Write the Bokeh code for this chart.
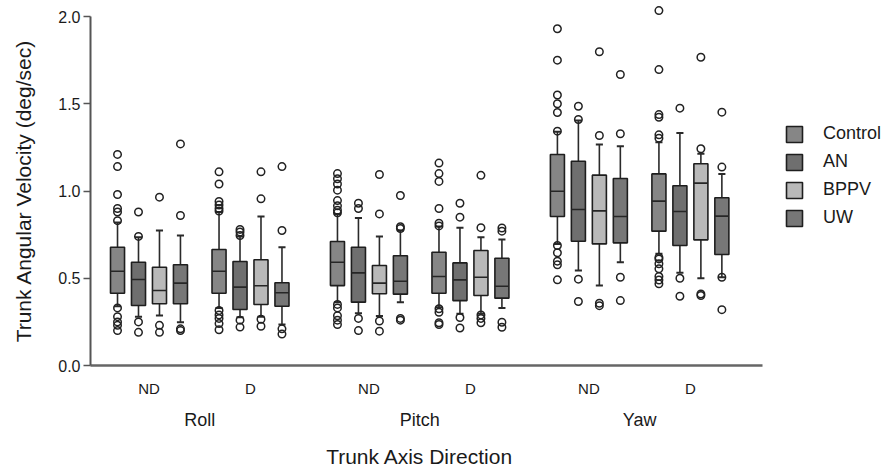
from bokeh.plotting import figure
from bokeh.models import (Range1d, FixedTicker, LinearAxis, Legend, LegendItem,
                          ColumnDataSource, NumeralTickFormatter)
from bokeh.embed import file_html
from bokeh.resources import INLINE

# ---------------- data ----------------
axis_names = ["Roll", "Pitch", "Yaw"]
directions = ["ND", "D"]
groups = ["Control", "AN", "BPPV", "UW"]
colors = ["#868686", "#6f6f6f", "#b9b9b9", "#777777"]
x_title = "Trunk Axis Direction"
y_title = "Trunk Angular Velocity (deg/sec)"

# rows: Roll-ND, Roll-D, Pitch-ND, Pitch-D, Yaw-ND, Yaw-D ; columns: Control, AN, BPPV, UW
whisker_lo = [
    [0.34, 0.28, 0.287, 0.248],
    [0.33, 0.277, 0.28, 0.235],
    [0.363, 0.30, 0.283, 0.363],
    [0.334, 0.296, 0.296, 0.33],
    [0.697, 0.544, 0.458, 0.592],
    [0.64, 0.531, 0.50, 0.506],
]
q1 = [
    [0.414, 0.344, 0.354, 0.354],
    [0.414, 0.321, 0.35, 0.34],
    [0.458, 0.363, 0.411, 0.409],
    [0.414, 0.372, 0.401, 0.386],
    [0.854, 0.712, 0.697, 0.703],
    [0.77, 0.688, 0.72, 0.636],
]
median = [
    [0.54, 0.493, 0.43, 0.472],
    [0.54, 0.449, 0.457, 0.417],
    [0.592, 0.531, 0.472, 0.483],
    [0.51, 0.491, 0.506, 0.454],
    [0.999, 0.894, 0.886, 0.854],
    [0.942, 0.883, 1.045, 0.856],
]
q3 = [
    [0.678, 0.592, 0.563, 0.577],
    [0.665, 0.596, 0.606, 0.474],
    [0.711, 0.678, 0.573, 0.629],
    [0.649, 0.588, 0.659, 0.615],
    [1.209, 1.171, 1.091, 1.072],
    [1.098, 1.03, 1.156, 0.961],
]
whisker_hi = [
    [0.82, 0.735, 0.774, 0.745],
    [0.88, 0.739, 0.854, 0.678],
    [0.869, 0.846, 0.739, 0.774],
    [0.797, 0.789, 0.735, 0.722],
    [1.34, 1.404, 1.266, 1.257],
    [1.28, 1.333, 1.213, 1.098],
]
outliers = [
    [[1.21, 1.14, 0.98, 0.90, 0.88, 0.83, 0.33, 0.28, 0.25, 0.23, 0.20],
     [0.88, 0.74, 0.25, 0.19],
     [0.965, 0.23, 0.19],
     [1.27, 0.86, 0.21, 0.20]],
    [[1.11, 1.04, 0.94, 0.92, 0.90, 0.885, 0.315, 0.29, 0.27, 0.24, 0.205],
     [0.78, 0.765, 0.745, 0.26, 0.22],
     [1.11, 0.955, 0.265, 0.225],
     [1.14, 0.774, 0.21, 0.18]],
    [[1.10, 1.07, 1.04, 1.005, 0.945, 0.915, 0.89, 0.875, 0.35, 0.33, 0.285, 0.26, 0.235],
     [0.93, 0.90, 0.27, 0.20],
     [1.095, 0.869, 0.255, 0.197],
     [0.974, 0.795, 0.785, 0.27, 0.26]],
    [[1.16, 1.10, 1.055, 0.90, 0.815, 0.80, 0.325, 0.305, 0.245, 0.235],
     [0.93, 0.85, 0.275, 0.215],
     [1.09, 0.79, 0.29, 0.27, 0.245],
     [0.788, 0.77, 0.248, 0.219]],
    [[1.93, 1.75, 1.55, 1.50, 1.45, 1.343, 0.688, 0.646, 0.598, 0.577, 0.491],
     [1.486, 1.41, 0.495, 0.367],
     [1.798, 1.318, 0.357, 0.343],
     [1.668, 1.328, 0.506, 0.372]],
    [[2.034, 1.696, 1.438, 1.423, 1.322, 1.303, 0.62, 0.611, 0.583, 0.554, 0.51, 0.49, 0.468],
     [1.475, 0.50, 0.397],
     [1.767, 1.242, 0.401, 0.41],
     [1.452, 1.137, 0.506, 0.32]],
]
y_ticks = [0.0, 0.5, 1.0, 1.5, 2.0]

# ---------------- layout ----------------
dir_pos = [0, 6, 13, 19, 26, 32]          # x positions of ND / D slots
group_label_pos = [3, 16, 29]             # centres of Roll / Pitch / Yaw
offsets = [-1.86, -0.62, 0.62, 1.86]
box_w = 0.83
cap_w = 0.42
x_start, x_end = -3.457, 43.65
axis_right = 36.26

FONT = "Liberation Sans"
TXT = "#1a1a1a"

p = figure(width=887, height=471, output_backend="svg", toolbar_location=None,
           x_range=Range1d(x_start, x_end), y_range=Range1d(0, 2.069),
           min_border_left=90, min_border_right=0, min_border_top=4,
           min_border_bottom=106)
p.outline_line_color = None
p.xgrid.visible = False
p.ygrid.visible = False
p.background_fill_color = "white"
p.border_fill_color = "white"

box_renderers = []
for gi, g in enumerate(groups):
    xs = [dp + offsets[gi] for dp in dir_pos]
    src = ColumnDataSource(dict(
        x=xs,
        x0=[x - box_w / 2 for x in xs], x1=[x + box_w / 2 for x in xs],
        c0=[x - cap_w / 2 for x in xs], c1=[x + cap_w / 2 for x in xs],
        lo=[r[gi] for r in whisker_lo], q1=[r[gi] for r in q1],
        med=[r[gi] for r in median], q3=[r[gi] for r in q3],
        hi=[r[gi] for r in whisker_hi],
    ))
    p.segment("x", "q3", "x", "hi", source=src, line_color="#2a2a2a", line_width=1.6)
    p.segment("x", "q1", "x", "lo", source=src, line_color="#2a2a2a", line_width=1.6)
    p.segment("c0", "hi", "c1", "hi", source=src, line_color="#2a2a2a", line_width=2)
    p.segment("c0", "lo", "c1", "lo", source=src, line_color="#2a2a2a", line_width=2)
    r = p.vbar(x="x", width=box_w, top="q3", bottom="q1", source=src,
               fill_color=colors[gi], line_color="#1e1e1e", line_width=1.6)
    box_renderers.append(r)
    p.segment("x0", "med", "x1", "med", source=src, line_color="#262626", line_width=1.6)
    ox, oy = [], []
    for si, dp in enumerate(dir_pos):
        for v in outliers[si][gi]:
            ox.append(dp + offsets[gi])
            oy.append(v)
    p.scatter(ox, oy, marker="circle", size=7.5, fill_color=None,
              line_color="#222222", line_width=1.5)

# y axis
ya = p.yaxis[0]
ya.ticker = FixedTicker(ticks=y_ticks)
ya.formatter = NumeralTickFormatter(format="0.0")
ya.bounds = (0, 2.0)
ya.minor_tick_line_color = None
ya.major_tick_out = 7
ya.major_tick_in = 0
ya.major_tick_line_color = "#555555"
ya.major_tick_line_width = 1.5
ya.axis_line_color = "#555555"
ya.axis_line_width = 2
ya.major_label_standoff = 3
ya.major_label_text_font = FONT
ya.major_label_text_font_size = "16px"
ya.major_label_text_color = TXT

# y title, centred on the 0-2 span of the axis
ya2 = LinearAxis(ticker=FixedTicker(ticks=[1.0]),
                 major_label_overrides={1.0: y_title},
                 major_label_orientation="vertical",
                 axis_line_color=None, major_tick_line_color=None,
                 minor_tick_line_color=None, major_tick_out=0, major_tick_in=0,
                 major_label_standoff=20,
                 major_label_text_font=FONT, major_label_text_font_size="21px",
                 major_label_text_color=TXT)
p.add_layout(ya2, "left")

# x axis (ND / D)
xa = p.xaxis[0]
xa.ticker = FixedTicker(ticks=dir_pos)
xa.major_label_overrides = {dp: directions[i % 2] for i, dp in enumerate(dir_pos)}
xa.bounds = (x_start, axis_right)
xa.major_tick_line_color = None
xa.minor_tick_line_color = None
xa.major_tick_out = 0
xa.major_tick_in = 0
xa.axis_line_color = "#666666"
xa.axis_line_width = 2.5
xa.major_label_standoff = 14
xa.major_label_text_font = FONT
xa.major_label_text_font_size = "15px"
xa.major_label_text_color = TXT

# second x axis (Roll / Pitch / Yaw)
xa2 = LinearAxis(ticker=FixedTicker(ticks=group_label_pos),
                 major_label_overrides={pos: axis_names[i] for i, pos in enumerate(group_label_pos)},
                 axis_line_color=None, major_tick_line_color=None,
                 minor_tick_line_color=None, major_tick_out=0, major_tick_in=0,
                 major_label_standoff=10,
                 major_label_text_font=FONT, major_label_text_font_size="18px",
                 major_label_text_color=TXT)
p.add_layout(xa2, "below")

# x title, centred under the Pitch group
xa3 = LinearAxis(ticker=FixedTicker(ticks=[group_label_pos[1]]),
                 major_label_overrides={group_label_pos[1]: x_title},
                 axis_line_color=None, major_tick_line_color=None,
                 minor_tick_line_color=None, major_tick_out=0, major_tick_in=0,
                 major_label_standoff=12,
                 major_label_text_font=FONT, major_label_text_font_size="21px",
                 major_label_text_color=TXT)
p.add_layout(xa3, "below")

legend = Legend(items=[LegendItem(label=g, renderers=[box_renderers[i]]) for i, g in enumerate(groups)],
                location=(694, 137), orientation="vertical",
                glyph_width=20, glyph_height=20, label_height=20, spacing=7,
                label_standoff=19, padding=0, margin=0,
                border_line_color=None, background_fill_alpha=0,
                label_text_font=FONT, label_text_font_size="18px",
                label_text_color=TXT)
p.add_layout(legend)

open("out.html", "w").write(file_html(p, INLINE))
